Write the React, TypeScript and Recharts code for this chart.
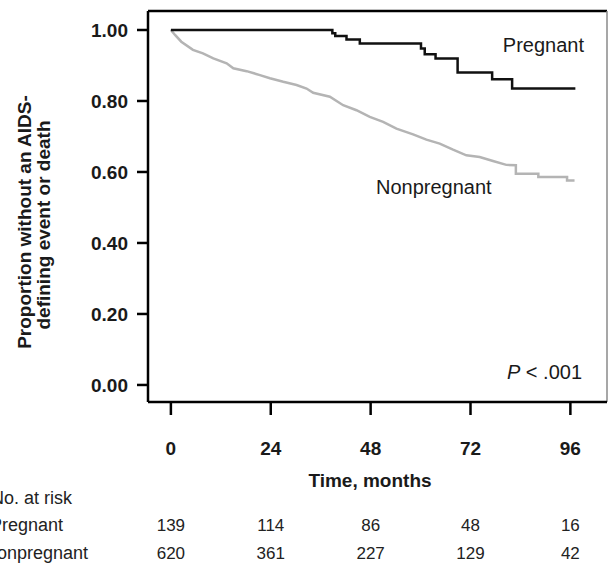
import { LineChart, Line, XAxis, YAxis, ReferenceLine } from 'recharts';

// Kaplan-Meier estimates (month, proportion)
const pregnant = [
  { month: 0, p: 1.0 },
  { month: 38.8, p: 0.991 },
  { month: 39.5, p: 0.983 },
  { month: 42.2, p: 0.973 },
  { month: 45.4, p: 0.962 },
  { month: 60.1, p: 0.948 },
  { month: 61, p: 0.932 },
  { month: 63.6, p: 0.92 },
  { month: 68.9, p: 0.88 },
  { month: 77.2, p: 0.861 },
  { month: 82, p: 0.835 },
  { month: 97.2, p: 0.835 },
];

const nonpregnant = [
  { month: 0, p: 1.0 },
  { month: 1, p: 0.986 },
  { month: 2.5, p: 0.967 },
  { month: 5.3, p: 0.944 },
  { month: 7.7, p: 0.934 },
  { month: 10.2, p: 0.92 },
  { month: 13.4, p: 0.906 },
  { month: 15, p: 0.892 },
  { month: 18.2, p: 0.884 },
  { month: 21.4, p: 0.873 },
  { month: 23.8, p: 0.864 },
  { month: 27, p: 0.854 },
  { month: 30.2, p: 0.845 },
  { month: 32.6, p: 0.835 },
  { month: 34.2, p: 0.823 },
  { month: 38.2, p: 0.812 },
  { month: 41.4, p: 0.788 },
  { month: 44.6, p: 0.774 },
  { month: 47.8, p: 0.755 },
  { month: 51, p: 0.741 },
  { month: 54.2, p: 0.722 },
  { month: 58.2, p: 0.706 },
  { month: 61.4, p: 0.691 },
  { month: 64.6, p: 0.68 },
  { month: 67.8, p: 0.663 },
  { month: 71, p: 0.647 },
  { month: 74.2, p: 0.642 },
  { month: 77.4, p: 0.631 },
  { month: 80.6, p: 0.62 },
  { month: 82.9, p: 0.619 },
  { month: 82.9, p: 0.595 },
  { month: 88.3, p: 0.595 },
  { month: 88.3, p: 0.586 },
  { month: 95.2, p: 0.586 },
  { month: 95.2, p: 0.576 },
  { month: 97, p: 0.576 },
];

const monthTicks = [0, 24, 48, 72, 96];
const yTicks = [0, 0.2, 0.4, 0.6, 0.8, 1.0];
const atRiskPregnant = [139, 114, 86, 48, 16];
const atRiskNonpregnant = [620, 361, 227, 129, 42];

const X_DOMAIN: [number, number] = [-5.5, 104.8];
const Y_DOMAIN: [number, number] = [-0.048, 1.0535];

const FONT = 'Arial, "Liberation Sans", Helvetica, sans-serif';
const INK = '#1a1a1a';

// rows for the number-at-risk table, one per tick month
const riskRows = monthTicks.map((month, i) => ({
  month,
  pregnant: atRiskPregnant[i],
  nonpregnant: atRiskNonpregnant[i],
}));

export default function App() {
  const riskTick = (arr: number[]) => (v: number) => String(arr[monthTicks.indexOf(v)] ?? '');
  const riskStyle = { fill: '#222', fontSize: 17, fontFamily: FONT };

  return (
    <div style={{ position: 'absolute', left: 0, top: 0, width: 608, height: 566, background: '#fff', fontFamily: FONT }}>
      <LineChart width={608} height={566} margin={{ top: 11, right: 1, bottom: 8, left: 0 }}>
        <XAxis
          type="number"
          dataKey="month"
          domain={X_DOMAIN}
          allowDataOverflow
          ticks={monthTicks}
          height={100}
          axisLine={{ stroke: '#000', strokeWidth: 2.5 }}
          tickLine={{ stroke: '#000', strokeWidth: 2.5 }}
          tickSize={13}
          tickMargin={27}
          tick={{ fill: INK, fontSize: 19, fontWeight: 700, fontFamily: FONT }}
        />
        <XAxis
          xAxisId="risk1"
          type="number"
          dataKey="month"
          domain={X_DOMAIN}
          allowDataOverflow
          ticks={monthTicks}
          height={28}
          axisLine={false}
          tickLine={false}
          tickSize={0}
          tickMargin={17}
          tickFormatter={riskTick(atRiskPregnant)}
          tick={riskStyle}
        />
        <XAxis
          xAxisId="risk2"
          type="number"
          dataKey="month"
          domain={X_DOMAIN}
          allowDataOverflow
          ticks={monthTicks}
          height={28}
          axisLine={false}
          tickLine={false}
          tickSize={0}
          tickMargin={17}
          tickFormatter={riskTick(atRiskNonpregnant)}
          tick={riskStyle}
        />
        <YAxis
          type="number"
          domain={Y_DOMAIN}
          allowDataOverflow
          ticks={yTicks}
          width={148}
          axisLine={{ stroke: '#000', strokeWidth: 2.5 }}
          tickLine={{ stroke: '#000', strokeWidth: 2.5 }}
          tickSize={11}
          tickMargin={9}
          tickFormatter={(v: number) => v.toFixed(2)}
          tick={{ fill: INK, fontSize: 19, fontWeight: 700, fontFamily: FONT }}
        />
        <ReferenceLine y={Y_DOMAIN[1]} stroke="#000" strokeWidth={2.5} ifOverflow="visible" />
        <ReferenceLine x={X_DOMAIN[1]} stroke="#8a8a8a" strokeWidth={1.5} ifOverflow="visible" />
        {/* invisible series that tie the at-risk rows to their axes */}
        <Line xAxisId="risk2" data={riskRows} dataKey="nonpregnant" stroke="none" dot={false} activeDot={false} isAnimationActive={false} />
        <Line xAxisId="risk1" data={riskRows} dataKey="pregnant" stroke="none" dot={false} activeDot={false} isAnimationActive={false} />
        <Line
          data={nonpregnant}
          dataKey="p"
          type="linear"
          stroke="#b4b4b4"
          strokeWidth={2.5}
          dot={false}
          isAnimationActive={false}
        />
        <Line
          data={pregnant}
          dataKey="p"
          type="stepAfter"
          stroke="#111"
          strokeWidth={2.5}
          dot={false}
          isAnimationActive={false}
        />
      </LineChart>
      <svg width={608} height={566} style={{ position: 'absolute', left: 0, top: 0, pointerEvents: 'none' }} fontFamily={FONT}>
        <g fill={INK} fontWeight={700} fontSize={19} textAnchor="middle">
          <text transform="translate(24,222) rotate(-90)" dy="0.35em">Proportion without an AIDS-</text>
          <text transform="translate(43,225) rotate(-90)" dy="0.35em">defining event or death</text>
          <text x={370} y={480} dy="0.35em">Time, months</text>
        </g>
        <g fill="#222" fontSize={18} textAnchor="end">
          <text x={72} y={498} dy="0.35em">No. at risk</text>
          <text x={63} y={525} dy="0.35em">Pregnant</text>
          <text x={88} y={553} dy="0.35em">Nonpregnant</text>
        </g>
        <g fill={INK} fontSize={20}>
          <text x={584} y={45} dy="0.35em" textAnchor="end">Pregnant</text>
          <text x={376} y={187} dy="0.35em" textAnchor="start">Nonpregnant</text>
          <text x={582} y={372} dy="0.35em" textAnchor="end">
            <tspan fontStyle="italic">P</tspan> &lt; .001
          </text>
        </g>
      </svg>
    </div>
  );
}
